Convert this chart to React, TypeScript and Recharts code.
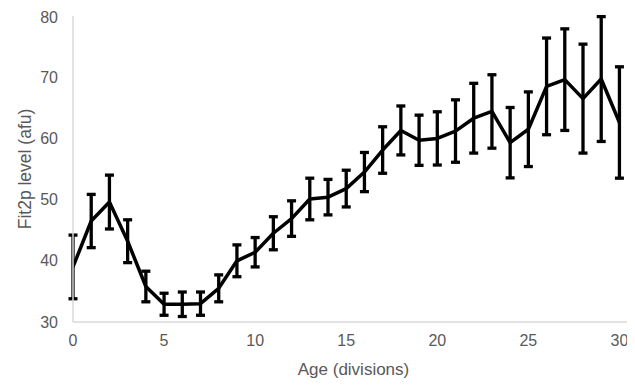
import React from "react";
import { LineChart, Line, XAxis, YAxis, ErrorBar, Label } from "recharts";

// Age in divisions
const ages: number[] = [
  0, 1, 2, 3, 4, 5, 6, 7, 8, 9, 10, 11, 12, 13, 14, 15,
  16, 17, 18, 19, 20, 21, 22, 23, 24, 25, 26, 27, 28, 29, 30,
];

// Mean Fit2p level (afu) at each age
const levels: number[] = [
  39.0, 46.5, 49.6, 43.2, 35.8, 32.9, 32.9, 33.0, 35.5, 40.0, 41.4,
  44.5, 46.9, 50.1, 50.4, 51.8, 54.5, 58.1, 61.3, 59.7, 60.0,
  61.2, 63.3, 64.4, 59.3, 61.5, 68.5, 69.6, 66.5, 69.7, 62.6,
];

// Error (± value) at each age
const errors: number[] = [
  5.2, 4.35, 4.4, 3.5, 2.5, 1.8, 2.0, 1.9, 2.2, 2.6, 2.4,
  2.7, 2.9, 3.4, 2.9, 3.0, 3.2, 3.8, 4.0, 4.1, 4.35,
  5.1, 5.7, 6.0, 5.75, 6.1, 7.9, 8.3, 8.9, 10.2, 9.1,
];

const xTicks: number[] = [0, 5, 10, 15, 20, 25, 30];
const yTicks: number[] = [30, 40, 50, 60, 70, 80];

const data = ages.map((age, i) => ({ age, level: levels[i], err: errors[i] }));

const FONT = '"Liberation Sans", Arial, sans-serif';
const TEXT_GRAY = "#595959";
const AXIS_GRAY = "#d9d9d9";

export default function App() {
  return (
    <LineChart
      width={627}
      height={377}
      data={data}
      margin={{ top: 8, right: 1, bottom: 8, left: 0 }}
      style={{ fontFamily: FONT }}
    >
      <XAxis
        dataKey="age"
        type="number"
        domain={[0, 30.8]}
        ticks={xTicks}
        allowDataOverflow
        height={55}
        tickLine={false}
        tickMargin={7}
        axisLine={{ stroke: AXIS_GRAY, strokeWidth: 1.5 }}
        tick={{ fill: TEXT_GRAY, fontSize: 16, fontFamily: FONT }}
      >
        <Label
          value="Age (divisions)"
          position="insideBottom"
          offset={2}
          fill={TEXT_GRAY}
          fontSize={17}
          fontFamily={FONT}
        />
      </XAxis>
      <YAxis
        type="number"
        domain={[30, 80]}
        ticks={yTicks}
        width={65}
        tickLine={false}
        tickMargin={9}
        axisLine={{ stroke: AXIS_GRAY, strokeWidth: 1.5 }}
        tick={{ fill: TEXT_GRAY, fontSize: 16, fontFamily: FONT }}
      >
        <Label
          value="Fit2p level (afu)"
          angle={-90}
          position="insideLeft"
          offset={17}
          fill={TEXT_GRAY}
          fontSize={17.5}
          fontFamily={FONT}
          style={{ textAnchor: "middle" }}
        />
      </YAxis>
      <Line
        type="linear"
        dataKey="level"
        stroke="#000"
        strokeWidth={3.5}
        strokeLinejoin="round"
        dot={false}
        activeDot={false}
        isAnimationActive={false}
      >
        <ErrorBar
          dataKey="err"
          direction="y"
          width={4.5}
          stroke="#000"
          strokeWidth={3.3}
          isAnimationActive={false}
        />
      </Line>
    </LineChart>
  );
}
